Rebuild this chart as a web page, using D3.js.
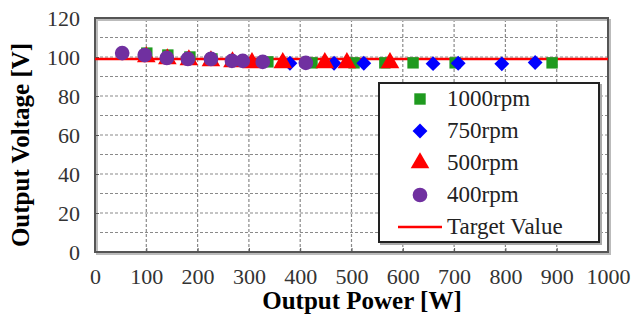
<!DOCTYPE html>
<html>
<head>
<meta charset="utf-8">
<script src="https://cdn.jsdelivr.net/npm/d3@7"></script>
<style>
	body { margin: 0; background: #fff; }
</style>
</head>
<body>
<div id="chart"></div>
<script>
// output power [W] / output voltage [V] per speed
const rpm1000W = [101, 142, 185, 228, 337, 423, 505, 565, 620, 702, 891];
const rpm1000V = [102, 101, 100, 99, 97.5, 97, 97, 97, 97, 97, 97];
const rpm750W = [380, 466, 524, 659, 708, 793, 858];
const rpm750V = [96.8, 96.8, 96.8, 96.6, 96.8, 96.5, 97.2];
const rpm500W = [100, 141, 183, 226, 268, 306, 366, 448, 491, 575];
const rpm500V = [100, 99, 98.5, 98, 97.5, 97, 97, 97, 97, 97];
const rpm400W = [53, 97, 140, 181, 226, 267, 288, 327, 411];
const rpm400V = [102, 101, 99.5, 99, 99, 98, 98, 97.5, 97];
const targetValue = 99;

const xTicks = [0, 100, 200, 300, 400, 500, 600, 700, 800, 900, 1000];
const yTicks = [0, 20, 40, 60, 80, 100, 120];
const legendLabels = ["1000rpm", "750rpm", "500rpm", "400rpm", "Target Value"];

const serif = "'Liberation Serif', 'Times New Roman', Times, serif";
const width = 634, height = 320;
const x = d3.scaleLinear().domain([0, 1000]).range([95, 608]);
const y = d3.scaleLinear().domain([0, 120]).range([252, 18]);

const svg = d3.select("#chart").append("svg")
	.attr("width", width)
	.attr("height", height)
	.style("font-family", serif);

// grid
svg.append("g").selectAll("line")
	.data(d3.range(10, 120, 10))
	.enter().append("line")
	.attr("x1", x(0)).attr("x2", x(1000))
	.attr("y1", d => y(d)).attr("y2", d => y(d))
	.attr("stroke", "#8a8a8a").attr("stroke-width", 1.2)
	.attr("stroke-dasharray", "3,2");
svg.append("g").selectAll("line")
	.data(xTicks.slice(1, -1))
	.enter().append("line")
	.attr("y1", y(0)).attr("y2", y(120))
	.attr("x1", d => x(d)).attr("x2", d => x(d))
	.attr("stroke", "#8a8a8a").attr("stroke-width", 1.2)
	.attr("stroke-dasharray", "3,2");

// frame with a soft shadow
svg.append("rect")
	.attr("x", x(0) + 2).attr("y", y(120) + 2)
	.attr("width", x(1000) - x(0)).attr("height", y(0) - y(120))
	.attr("fill", "none").attr("stroke", "#bbb").attr("stroke-width", 2);
svg.append("rect")
	.attr("x", x(0)).attr("y", y(120))
	.attr("width", x(1000) - x(0)).attr("height", y(0) - y(120))
	.attr("fill", "none").attr("stroke", "#555").attr("stroke-width", 2);

// axes
const xAxis = svg.append("g")
	.attr("transform", `translate(0,${y(0)})`)
	.call(d3.axisBottom(x).tickValues(xTicks).tickFormat(d3.format("d")).tickSize(-4).tickPadding(16));
const yAxis = svg.append("g")
	.attr("transform", `translate(${x(0)},0)`)
	.call(d3.axisLeft(y).tickValues(yTicks).tickFormat(d3.format("d")).tickSize(-4).tickPadding(15));
[xAxis, yAxis].forEach(a => {
	a.attr("font-family", null).attr("font-size", null);
	a.select(".domain").remove();
	a.selectAll("line").attr("stroke", "#555");
	a.selectAll("text")
		.style("font-family", serif)
		.style("font-size", "22px")
		.attr("fill", "#333");
});

svg.append("text")
	.attr("x", 362).attr("y", 309)
	.attr("text-anchor", "middle")
	.style("font-family", serif)
	.style("font-size", "25px").style("font-weight", "bold")
	.text("Output Power [W]");
svg.append("text")
	.attr("transform", "translate(29,145) rotate(-90)")
	.attr("text-anchor", "middle")
	.style("font-family", serif)
	.style("font-size", "25px").style("font-weight", "bold")
	.text("Output Voltage [V]");

// target line
svg.append("line")
	.attr("x1", x(0)).attr("x2", x(1000))
	.attr("y1", y(targetValue)).attr("y2", y(targetValue))
	.attr("stroke", "#ff0000").attr("stroke-width", 2.5);

const series = [
	{ w: rpm1000W, v: rpm1000V, color: "#1f9a1f", shape: d3.symbolSquare, size: 130, rot: 0 },
	{ w: rpm750W, v: rpm750V, color: "#0000ff", shape: d3.symbolSquare, size: 110, rot: 45 },
	{ w: rpm500W, v: rpm500V, color: "#ff0000", shape: d3.symbolTriangle, size: 150, rot: 0 },
	{ w: rpm400W, v: rpm400V, color: "#7030a0", shape: d3.symbolCircle, size: 170, rot: 0 }
];

series.forEach(s => {
	svg.append("g").selectAll("path")
		.data(s.w.map((w, i) => [w, s.v[i]]))
		.enter().append("path")
		.attr("d", d3.symbol().type(s.shape).size(s.size))
		.attr("transform", d => `translate(${x(d[0])},${y(d[1])}) rotate(${s.rot})`)
		.attr("fill", s.color);
});

// legend
const lg = svg.append("g");
lg.append("rect")
	.attr("x", 381).attr("y", 85).attr("width", 220).attr("height", 159)
	.attr("fill", "none").attr("stroke", "#aaa").attr("stroke-width", 2);
lg.append("rect")
	.attr("x", 379).attr("y", 83).attr("width", 220).attr("height", 159)
	.attr("fill", "#fff").attr("stroke", "#222").attr("stroke-width", 2);

const rowY = d3.scaleLinear().domain([0, 4]).range([99, 227]);
legendLabels.forEach((label, i) => {
	if (i < 4) {
		const s = series[i];
		lg.append("path")
			.attr("d", d3.symbol().type(s.shape).size(s.size))
			.attr("transform", `translate(420,${rowY(i)}) rotate(${s.rot})`)
			.attr("fill", s.color);
	} else {
		lg.append("line")
			.attr("x1", 398).attr("x2", 442)
			.attr("y1", rowY(i)).attr("y2", rowY(i))
			.attr("stroke", "#ff0000").attr("stroke-width", 2.5);
	}
	lg.append("text")
		.attr("x", 447).attr("y", rowY(i) + 7)
		.style("font-family", serif)
		.style("font-size", "23px")
		.attr("fill", "#222")
		.text(label);
});
</script>
</body>
</html>
